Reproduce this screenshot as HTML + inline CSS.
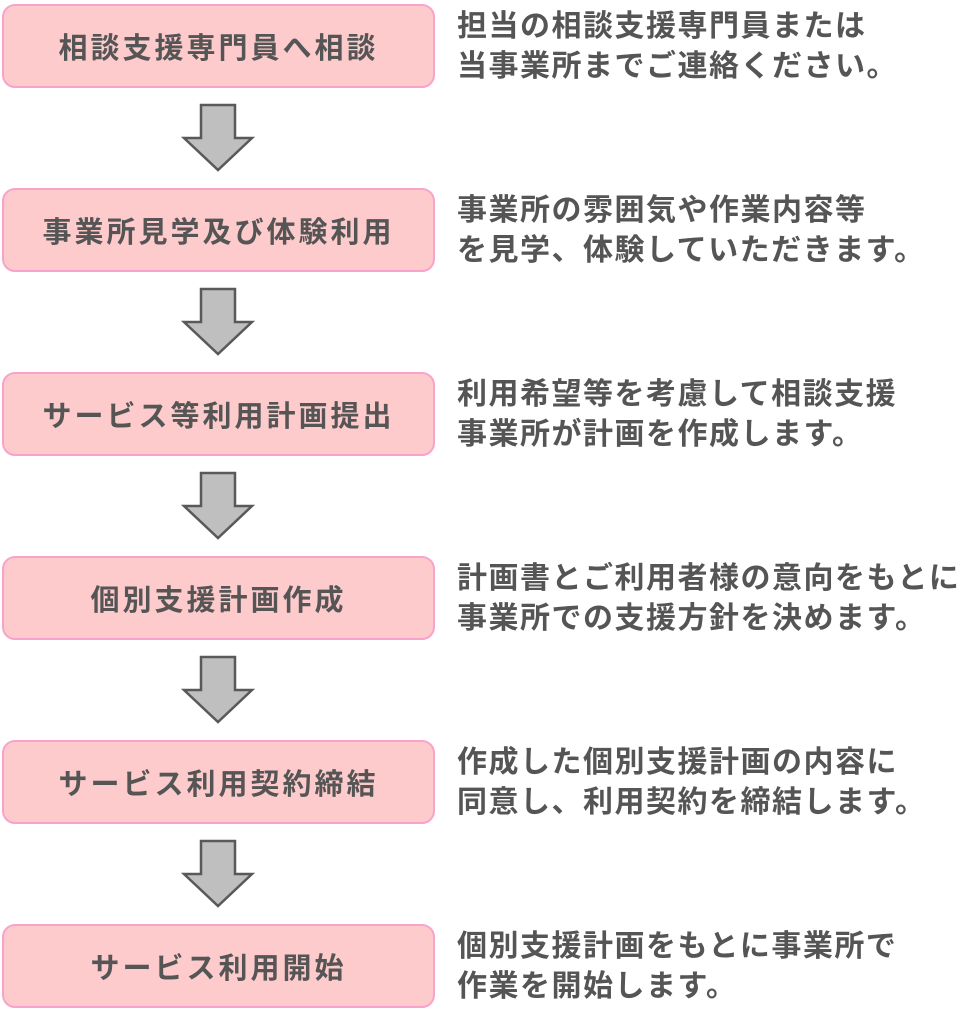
<!DOCTYPE html>
<html><head><meta charset="utf-8"><style>
body{margin:0;width:965px;height:1024px;background:#fff;position:relative;font-family:"Liberation Sans","Noto Sans CJK JP",sans-serif;font-weight:bold;color:#555;overflow:hidden}
.b{position:absolute;left:2px;width:429px;height:80px;background:#fecbcc;border:2px solid #f9a3cb;border-radius:13px;display:flex;align-items:center;justify-content:center;font-size:29px;letter-spacing:3px}
.t{position:absolute;left:457px;font-size:30px;line-height:40px;white-space:nowrap;letter-spacing:1.5px}
svg{position:absolute;left:180px}
</style></head><body>
<div class="b" style="top:4px">相談支援専門員へ相談</div>
<div class="t" style="top:7px">担当の相談支援専門員または<br>当事業所までご連絡ください。</div>
<div class="b" style="top:188px">事業所見学及び体験利用</div>
<div class="t" style="top:191px">事業所の雰囲気や作業内容等<br>を見学、体験していただきます。</div>
<div class="b" style="top:372px">サービス等利用計画提出</div>
<div class="t" style="top:375px">利用希望等を考慮して相談支援<br>事業所が計画を作成します。</div>
<div class="b" style="top:556px">個別支援計画作成</div>
<div class="t" style="top:559px">計画書とご利用者様の意向をもとに<br>事業所での支援方針を決めます。</div>
<div class="b" style="top:740px">サービス利用契約締結</div>
<div class="t" style="top:743px">作成した個別支援計画の内容に<br>同意し、利用契約を締結します。</div>
<div class="b" style="top:924px">サービス利用開始</div>
<div class="t" style="top:927px">個別支援計画をもとに事業所で<br>作業を開始します。</div>
<svg style="top:102px" width="80" height="72"><polygon points="21,3 55,3 55,36 72,36 38,68 4,36 21,36" fill="#bfbfbf" stroke="#595959" stroke-width="2.5"/></svg>
<svg style="top:286px" width="80" height="72"><polygon points="21,3 55,3 55,36 72,36 38,68 4,36 21,36" fill="#bfbfbf" stroke="#595959" stroke-width="2.5"/></svg>
<svg style="top:470px" width="80" height="72"><polygon points="21,3 55,3 55,36 72,36 38,68 4,36 21,36" fill="#bfbfbf" stroke="#595959" stroke-width="2.5"/></svg>
<svg style="top:654px" width="80" height="72"><polygon points="21,3 55,3 55,36 72,36 38,68 4,36 21,36" fill="#bfbfbf" stroke="#595959" stroke-width="2.5"/></svg>
<svg style="top:838px" width="80" height="72"><polygon points="21,3 55,3 55,36 72,36 38,68 4,36 21,36" fill="#bfbfbf" stroke="#595959" stroke-width="2.5"/></svg>
</body></html>
